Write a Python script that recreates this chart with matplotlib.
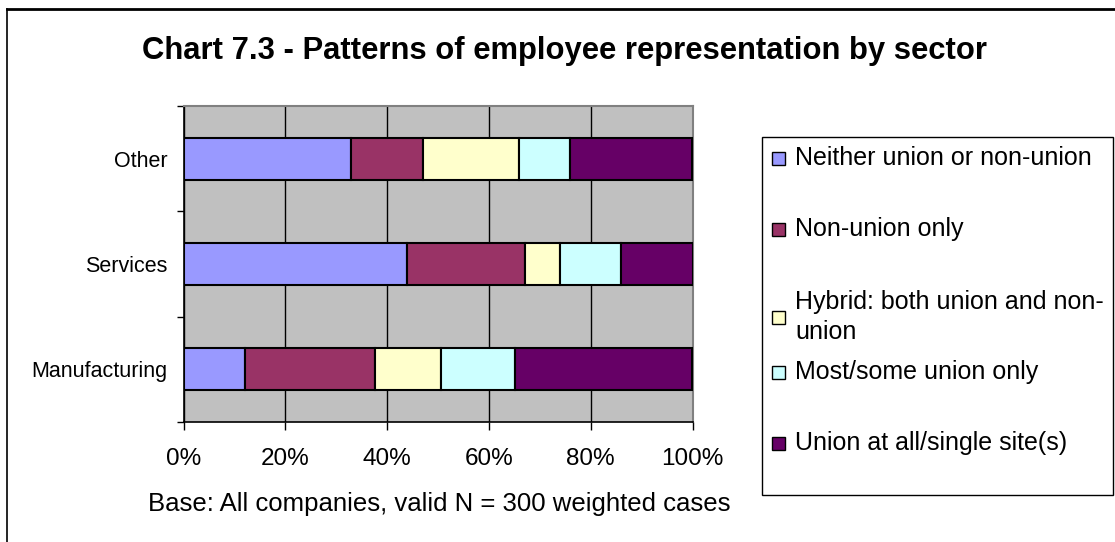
import matplotlib
matplotlib.use('Agg')
import matplotlib.pyplot as plt
from matplotlib.patches import Rectangle
from matplotlib.lines import Line2D
import numpy as np

sectors = ['Other', 'Services', 'Manufacturing']
series = ['Neither union or non-union', 'Non-union only',
          'Hybrid: both union and non-\nunion', 'Most/some union only',
          'Union at all/single site(s)']
neither = [33, 44, 12]
non_union = [14, 23, 25.7]
hybrid = [19, 7, 12.8]
most_some = [10, 12, 14.7]
union_all = [24, 14, 34.8]
colors = ['#9999FF', '#993366', '#FFFFCC', '#CCFFFF', '#660066']
ticks = [0, 20, 40, 60, 80, 100]

W, H = 1115, 542
plt.rcParams['font.family'] = ['Liberation Sans', 'DejaVu Sans']
fig = plt.figure(figsize=(W / 100, H / 100), dpi=100)

# outer chart frame, runs off the right and bottom edges
fig.add_artist(Line2D([7 / W, 7 / W], [0, 1 - 9 / H], color='black', lw=1.2))
fig.add_artist(Line2D([7 / W, 1], [1 - 9 / H, 1 - 9 / H], color='black', lw=2))

def px(l, t, r, b):
    return [l / W, 1 - b / H, (r - l) / W, (b - t) / H]

ax = fig.add_axes(px(183.5, 106, 692.5, 422))
ax.set_facecolor('#C0C0C0')

y = np.arange(len(sectors))
left = np.zeros(len(sectors))
for vals, c, name in zip([neither, non_union, hybrid, most_some, union_all], colors, series):
    ax.barh(y, vals, left=left, height=0.4, color=c, edgecolor='black', lw=1.5, zorder=3, label=name)
    left += np.array(vals)

ax.set_xlim(0, 100)
ax.set_ylim(2.5, -0.5)
ax.set_xticks(ticks)
ax.set_xticklabels(['%d%%' % t for t in ticks], fontsize=17.5)
ax.xaxis.grid(True, color='black', lw=1, zorder=1)
ax.tick_params(axis='x', direction='out', length=6, width=1, pad=13)

ax.set_yticks([-0.5, 0.5, 1.5, 2.5])
ax.set_yticklabels([])
ax.set_yticks(y, minor=True)
ax.set_yticklabels(sectors, minor=True, fontsize=15.5)
ax.tick_params(axis='y', which='major', direction='out', length=5, width=1)
ax.tick_params(axis='y', which='minor', length=0, pad=11.5)

for s in ['top', 'right']:
    ax.spines[s].set_color('#808080')
    ax.spines[s].set_linewidth(1.5)
for s in ['left', 'bottom']:
    ax.spines[s].set_color('black')
    ax.spines[s].set_linewidth(1.2)

fig.text(565 / W, 1 - 51 / H, 'Chart 7.3 - Patterns of employee representation by sector',
         ha='center', va='center', fontsize=22.3, fontweight='bold')
fig.text(439 / W, 1 - 504 / H, 'Base: All companies, valid N = 300 weighted cases',
         ha='center', va='center', fontsize=18.5)

# legend box drawn by hand
fig.add_artist(Rectangle((762 / W, 1 - 495 / H), (1113 - 762) / W, (495 - 137) / H,
                         transform=fig.transFigure, facecolor='white', edgecolor='black', lw=1))
label_y = [158, 229, 317, 372, 443]
for name, c, ly in zip(series, colors, label_y):
    fig.add_artist(Rectangle((772 / W, 1 - (ly + 7) / H), 13 / W, 13 / H,
                             transform=fig.transFigure, facecolor=c, edgecolor='black', lw=1))
    fig.text(795 / W, 1 - ly / H, name, ha='left', va='center', fontsize=18, linespacing=1.3)

fig.savefig('out.png', dpi=100)
